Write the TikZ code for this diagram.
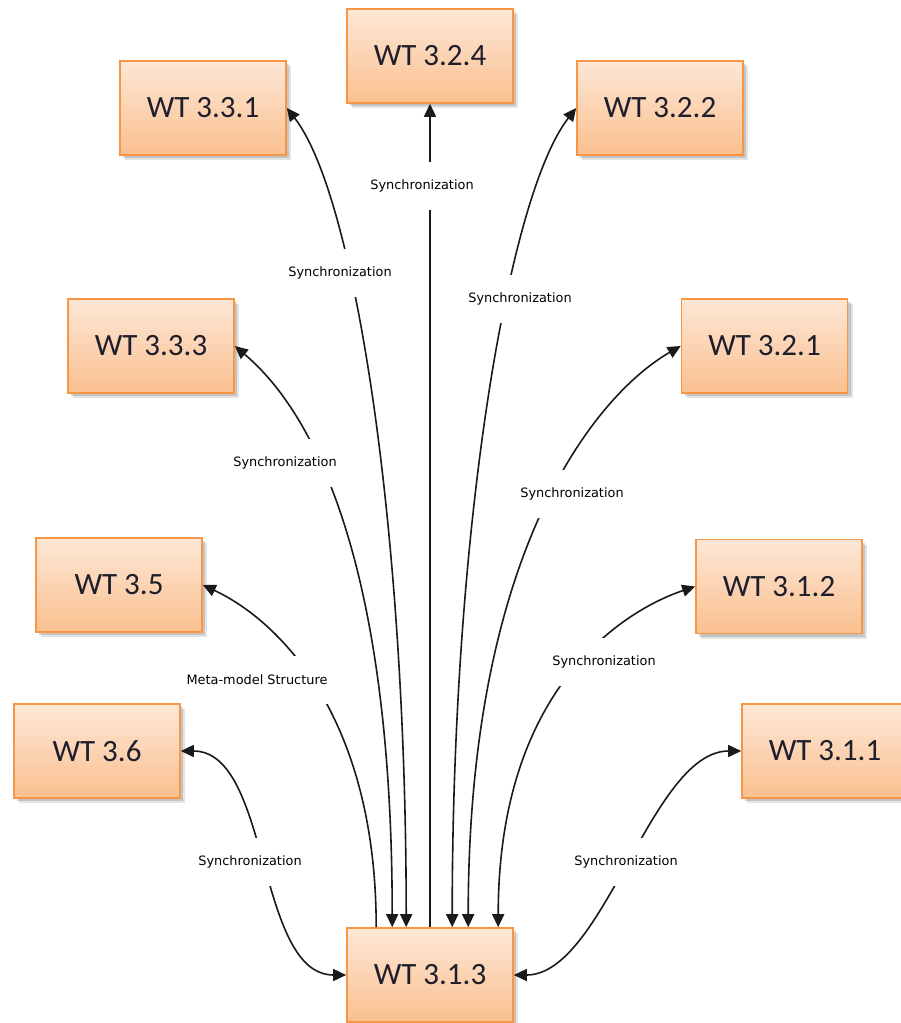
\documentclass[tikz,border=0pt]{standalone}
\usepackage{fontspec}
\setmainfont{Carlito}
\newfontfamily\labelfont{DejaVu Sans}
\usetikzlibrary{arrows.meta,calc,shadows}

\definecolor{boxtop}{HTML}{FDE7D6}
\definecolor{boxbottom}{HTML}{FAC08F}
\definecolor{boxedge}{HTML}{F79646}
\definecolor{boxtext}{HTML}{1E1E2C}
\definecolor{wire}{HTML}{1A1A1A}

\tikzset{
  wtbox/.style={rectangle, draw=boxedge, line width=1.6pt,
    top color=boxtop, bottom color=boxbottom,
    minimum width=166pt, minimum height=94pt, inner sep=0pt,
    font=\fontsize{31}{34}\selectfont, text=boxtext,
    drop shadow={shadow xshift=5pt, shadow yshift=-5pt, opacity=0.18, fill=black!60},
    drop shadow={shadow xshift=3pt, shadow yshift=-3pt, opacity=0.25, fill=black!60}},
  link/.style={draw=wire, line width=1.6pt},
  tip/.tip={Triangle[length=13pt,width=12pt]},
  linklabel/.style={fill=white, inner xsep=1pt, minimum height=48pt,
    font=\labelfont\fontsize{12.9}{14}\selectfont, text=black}
}

\begin{document}
\begin{tikzpicture}[x=1pt,y=-1pt]
  \useasboundingbox (0,0) rectangle (900,1023);

  % work task boxes
  \node[wtbox] (t331) at (203,108)   {WT 3.3.1};
  \node[wtbox] (t324) at (430,56)    {WT 3.2.4};
  \node[wtbox] (t322) at (660,108)   {WT 3.2.2};
  \node[wtbox] (t333) at (151,346)   {WT 3.3.3};
  \node[wtbox] (t321) at (764.5,346) {WT 3.2.1};
  \node[wtbox] (t35)  at (119,585)   {WT 3.5};
  \node[wtbox] (t312) at (779,586.5) {WT 3.1.2};
  \node[wtbox] (t36)  at (97,751)    {WT 3.6};
  \node[wtbox] (t311) at (825,751)   {WT 3.1.1};
  \node[wtbox] (t313) at (430,975)   {WT 3.1.3};

  % connectors into the top of WT 3.1.3
  \draw[link, tip-] (t35.east) .. controls +(75,35) and +(0,-212) .. ($(t313.north west)+(30,0)$);
  \draw[link, tip-tip] (t333.east) .. controls +(83,70) and +(0,-355) .. ($(t313.north west)+(46,0)$);
  \draw[link, tip-tip] (t331.east) .. controls +(68,87) and +(0,-400) .. ($(t313.north west)+(60,0)$);
  \draw[link, tip-] (t324.south) -- (t324.south |- t313.north);
  \draw[link, tip-tip] (t322.west) .. controls +(-68,87) and +(0,-400) .. ($(t313.north west)+(106,0)$);
  \draw[link, tip-tip] (t321.west) .. controls +(-80,46) and +(0,-385) .. ($(t313.north west)+(122,0)$);
  \draw[link, tip-tip] (t312.west) .. controls +(-60,20) and +(0,-250) .. ($(t313.north west)+(152,0)$);

  % side connectors
  \draw[link, tip-tip] (t36.east) .. controls +(90,0) and +(-90,0) .. (t313.west);
  \draw[link, tip-tip] (t311.west) .. controls +(-90,0) and +(90,0) .. (t313.east);

  % connector labels
  \node[linklabel] (l324) at (422,186) {Synchronization};
  \node[linklabel] (l331) at (340,273) {Synchronization};
  \node[linklabel] (l322) at (520,299) {Synchronization};
  \node[linklabel] (l333) at (285,463) {Synchronization};
  \node[linklabel] (l321) at (572,494) {Synchronization};
  \node[linklabel] (l35)  at (257,680) {Meta-model Structure};
  \node[linklabel] (l312) at (604,662) {Synchronization};
  \node[linklabel] (l36)  at (250,862) {Synchronization};
  \node[linklabel] (l311) at (626,862) {Synchronization};
\end{tikzpicture}
\end{document}
